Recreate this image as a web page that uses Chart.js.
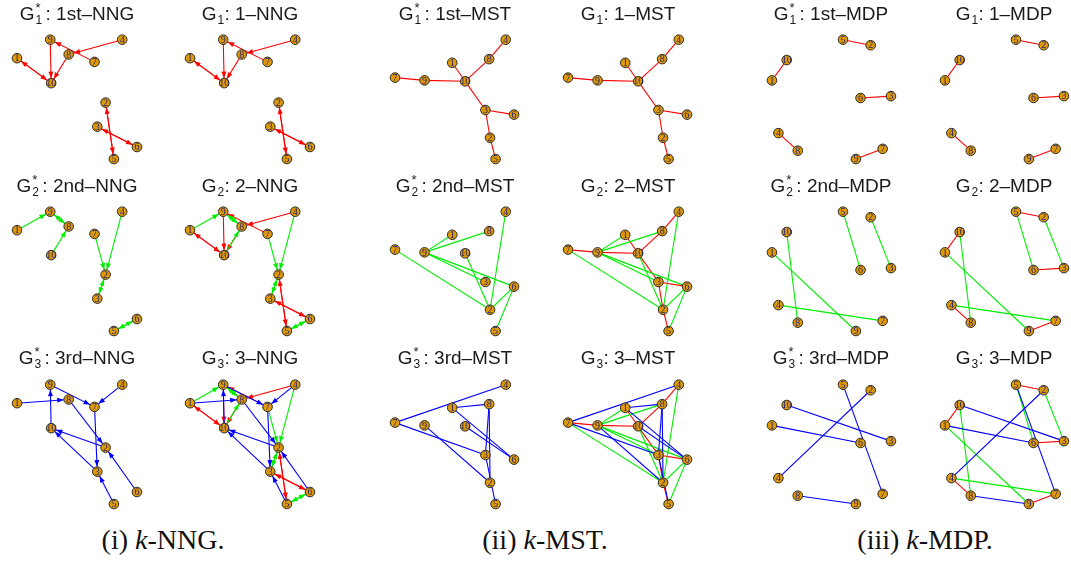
<!DOCTYPE html>
<html>
<head>
<meta charset="utf-8">
<script src="https://cdn.jsdelivr.net/npm/chart.js@4"></script>
<style>
body { margin: 0; width: 1071px; height: 569px; background: #fff; overflow: hidden; position: relative; font-family: "Liberation Sans", Arial, sans-serif; }
.panel { position: absolute; width: 150px; height: 155px; }
.title { position: absolute; width: 170px; text-align: center; font-size: 19px; line-height: 20px; color: #1a1a1a; white-space: nowrap; }
.idx { display: inline-block; position: relative; width: 8px; height: 1px; }
.idx.s { width: 11px; }
.idx sub, .idx sup { position: absolute; left: 1px; font-size: 12px; line-height: 12px; vertical-align: baseline; }
.idx sub { top: -5px; }
.idx sup { top: -17px; font-size: 13px; }
.caption { position: absolute; top: 522px; width: 300px; text-align: center; font-family: "Liberation Serif", "Times New Roman", serif; font-size: 28px; line-height: 36px; color: #111; }
</style>
</head>
<body>
<script>
const nodeNames = ['1','2','3','4','5','6','7','8','9','10'];

// node layouts (x to the right, y downwards), one per graph family
const nngX = [10, 106, 97, 124, 115, 140, 94, 66, 46, 47];
const nngY = [35, 83, 109, 15, 144, 131, 39, 31, 15, 62];
const mstX = [72, 113, 108, 130, 119, 139, 10, 112, 42, 86];
const mstY = [40, 121, 91, 15, 144, 96, 56, 36, 59, 60];
const mdpX = [11, 118, 140, 18, 88, 107, 131, 39, 102, 27];
const mdpY = [59, 21, 76, 116, 15, 78, 133, 135, 144, 37];

// k-th nearest neighbour of node i (directed i -> nn[i])
const nn1 = [10, 5, 6, 8, 2, 3, 9, 10, 10, 1];
const nn2 = [9, 3, 2, 2, 6, 5, 2, 9, 8, 8];
const nn3 = [8, 10, 10, 7, 3, 2, 3, 2, 7, 9];

// k-th minimum spanning tree edges
const mst1 = [[7,9],[9,10],[1,10],[10,8],[8,4],[10,3],[3,6],[3,2],[2,5]];
const mst2 = [[1,9],[8,9],[9,6],[9,3],[7,2],[4,2],[10,2],[6,5],[6,2]];
const mst3 = [[7,4],[7,3],[1,8],[1,6],[10,6],[8,2],[8,3],[3,5],[9,2]];

// k-th minimum distance perfect matching edges
const mdp1 = [[5,2],[10,1],[6,3],[4,8],[9,7]];
const mdp2 = [[2,3],[5,6],[10,8],[1,9],[4,7]];
const mdp3 = [[10,3],[1,6],[4,2],[5,7],[8,9]];

const levelColors = ['#ff0000', '#00ee00', '#0000ff'];
const ordinals = ['1st', '2nd', '3rd'];
const captions = ['(i) <i>k</i>-NNG.', '(ii) <i>k</i>-MST.', '(iii) <i>k</i>-MDP.'];

const colLeft = [2, 175, 380, 553, 756, 929];
const rowTop = [20, 192, 365];
const titleMid = [14, 186, 358];
const captionMid = [163, 545, 925];

const arrowPlugin = {
    id: 'arrows',
    afterDatasetDraw(chart, args) {
        const ds = chart.data.datasets[args.index];
        if (!ds.arrow) return;
        const a = args.meta.data[0], b = args.meta.data[1];
        const dx = b.x - a.x, dy = b.y - a.y;
        const d = Math.hypot(dx, dy);
        const ux = dx / d, uy = dy / d;
        const tx = b.x - ux * 5, ty = b.y - uy * 5;
        const bx = tx - ux * 6.5, by = ty - uy * 6.5;
        const ctx = chart.ctx;
        ctx.save();
        ctx.fillStyle = ds.borderColor;
        ctx.beginPath();
        ctx.moveTo(tx, ty);
        ctx.lineTo(bx - uy * 2.5, by + ux * 2.5);
        ctx.lineTo(bx + uy * 2.5, by - ux * 2.5);
        ctx.closePath();
        ctx.fill();
        ctx.restore();
    }
};

const labelPlugin = {
    id: 'nodeLabels',
    afterDatasetsDraw(chart) {
        const meta = chart.getDatasetMeta(0);
        const ctx = chart.ctx;
        ctx.save();
        ctx.font = '10px "Liberation Serif", serif';
        ctx.fillStyle = '#23237a';
        ctx.textAlign = 'center';
        ctx.textBaseline = 'middle';
        meta.data.forEach((p, i) => ctx.fillText(nodeNames[i], p.x, p.y + 0.5));
        ctx.restore();
    }
};

function edgeDataset(xs, ys, from, to, color, directed)
{
    return {
        data: [{x: xs[from - 1], y: ys[from - 1]}, {x: xs[to - 1], y: ys[to - 1]}],
        showLine: true,
        borderColor: color,
        borderWidth: 1.1,
        pointRadius: 0,
        arrow: directed,
        clip: false
    };
}

function drawPanel(left, top, xs, ys, levels, directed)
{
    const box = document.createElement('div');
    box.className = 'panel';
    box.style.left = left + 'px';
    box.style.top = top + 'px';
    const canvas = document.createElement('canvas');
    canvas.width = 150;
    canvas.height = 155;
    box.appendChild(canvas);
    document.body.appendChild(box);

    const datasets = [{
        data: xs.map((x, i) => ({x, y: ys[i]})),
        pointRadius: 4.8,
        backgroundColor: '#e09a00',
        borderColor: '#2a2a2a',
        borderWidth: 1,
        clip: false
    }];
    // higher levels drawn on top, so push them first
    for (let j = levels.length - 1; j >= 0; j--) {
        const lv = levels[j];
        lv.edges.forEach(e => datasets.push(edgeDataset(xs, ys, e[0], e[1], levelColors[lv.k], directed)));
    }

    new Chart(canvas, {
        type: 'scatter',
        data: { datasets },
        options: {
            responsive: false,
            animation: false,
            devicePixelRatio: 1,
            layout: { padding: 0 },
            plugins: { legend: { display: false }, tooltip: { enabled: false } },
            scales: {
                x: { display: false, min: 0, max: 150 },
                y: { display: false, min: 0, max: 155, reverse: true }
            }
        },
        plugins: [arrowPlugin, labelPlugin]
    });
}

function addTitle(cx, cy, k, star, kind)
{
    const t = document.createElement('div');
    t.className = 'title';
    t.style.left = (cx - 85) + 'px';
    t.style.top = (cy - 10) + 'px';
    if (star)
        t.innerHTML = 'G<span class="idx s"><sup>*</sup><sub>' + (k + 1) + '</sub></span>: ' + ordinals[k] + '–' + kind;
    else
        t.innerHTML = 'G<span class="idx"><sub>' + (k + 1) + '</sub></span>: ' + (k + 1) + '–' + kind;
    document.body.appendChild(t);
}

const nngEdges = [nn1, nn2, nn3].map(nn => nn.map((to, i) => [i + 1, to]));
const families = [
    { kind: 'NNG', xs: nngX, ys: nngY, sets: nngEdges, directed: true },
    { kind: 'MST', xs: mstX, ys: mstY, sets: [mst1, mst2, mst3], directed: false },
    { kind: 'MDP', xs: mdpX, ys: mdpY, sets: [mdp1, mdp2, mdp3], directed: false }
];

families.forEach((f, fi) => {
    for (let r = 0; r < 3; r++) {
        // left column: only the r-th level; right column: levels 1..r
        const single = [{ k: r, edges: f.sets[r] }];
        const cumul = [];
        for (let j = 0; j <= r; j++) cumul.push({ k: j, edges: f.sets[j] });
        const l0 = colLeft[fi * 2], l1 = colLeft[fi * 2 + 1];
        drawPanel(l0, rowTop[r], f.xs, f.ys, single, f.directed);
        drawPanel(l1, rowTop[r], f.xs, f.ys, cumul, f.directed);
        addTitle(l0 + 75, titleMid[r], r, true, f.kind);
        addTitle(l1 + 75, titleMid[r], r, false, f.kind);
    }
    const c = document.createElement('div');
    c.className = 'caption';
    c.style.left = (captionMid[fi] - 150) + 'px';
    c.innerHTML = captions[fi];
    document.body.appendChild(c);
});
</script>
</body>
</html>
